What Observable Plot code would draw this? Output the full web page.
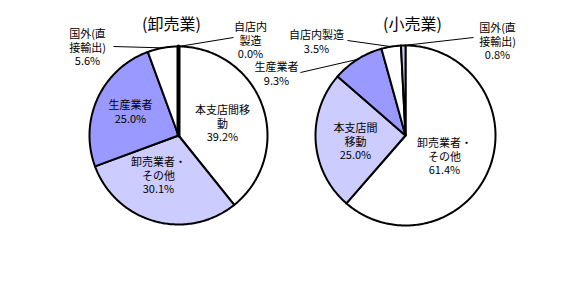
<!DOCTYPE html>
<html><head><meta charset="utf-8">
<script src="https://cdn.jsdelivr.net/npm/d3@7"></script>
<script src="https://cdn.jsdelivr.net/npm/@observablehq/plot@0.6"></script>
<style>body{margin:0;background:#fff;}</style>
</head><body><div id="chart"></div>
<script>
// ---- data ----
const charts = ["卸売業", "小売業"];
const wholesaleCategories = ["本支店間移動", "卸売業者・その他", "生産業者", "国外(直接輸出)", "自店内製造"];
const wholesaleValues = [39.2, 30.1, 25.0, 5.6, 0.0];
const wholesaleLabels = ["本支店間移\n動", "卸売業者・\nその他", "生産業者", "国外(直\n接輸出)", "自店内\n製造"];
const retailCategories = ["卸売業者・その他", "本支店間移動", "生産業者", "自店内製造", "国外(直接輸出)"];
const retailValues = [61.4, 25.0, 9.3, 3.5, 0.8];
const retailLabels = ["卸売業者・\nその他", "本支店間\n移動", "生産業者", "自店内製造", "国外(直\n接輸出)"];

// ---- layout / style ----
const W = 581, H = 284;
const sliceFills = ["#ffffff", "#ccccff", "#9999ff", "#ffffff", "#ccccff"];
const pieLayout = [
  {cx: 178, cy: 135, r: 89, titleX: 171, titleY: 24},
  {cx: 405, cy: 135, r: 90, titleX: 412, titleY: 24}
];
const labelLayout = [
  [{x: 222, y: 109}, {x: 158, y: 161}, {x: 130, y: 104}, {x: 87, y: 33, lx: 113, ly: 46}, {x: 250, y: 26, lx: 233, ly: 37}],
  [{x: 444, y: 142}, {x: 355, y: 127}, {x: 276, y: 66, lx: 300, ly: 72}, {x: 316, y: 34, lx: 347, ly: 40}, {x: 497, y: 27, lx: 473, ly: 37}]
];
const LH = 13.7;

const sets = [
  {chart: charts[0], cats: wholesaleCategories, values: wholesaleValues, labels: wholesaleLabels},
  {chart: charts[1], cats: retailCategories, values: retailValues, labels: retailLabels}
];

const polys = [], texts = [], leaders = [], titles = [];
sets.forEach((s, ci) => {
  const {cx, cy, r} = pieLayout[ci];
  titles.push({x: pieLayout[ci].titleX, y: pieLayout[ci].titleY, text: `(${s.chart})`});
  const total = d3.sum(s.values);
  let acc = 0;
  s.values.forEach((v, i) => {
    const a0 = acc / total * 2 * Math.PI;
    acc += v;
    const a1 = acc / total * 2 * Math.PI;
    const id = s.chart + "-" + s.cats[i];
    const fill = sliceFills[i];
    const zero = v === 0;
    polys.push({id, x: cx, y: cy, fill, zero});
    const n = Math.max(2, Math.ceil((a1 - a0) / (Math.PI / 180)));
    for (let k = 0; k <= n; k++) {
      const a = a0 + (a1 - a0) * k / n;
      polys.push({id, x: cx + r * Math.sin(a), y: cy - r * Math.cos(a), fill, zero});
    }
    polys.push({id, x: cx, y: cy, fill, zero});
    const L = labelLayout[ci][i];
    const nl = s.labels[i].split("\n").length + 1;
    texts.push({x: L.x, y: L.y + (nl - 1) * LH / 2, text: s.labels[i] + "\n" + v.toFixed(1) + "%"});
    if (L.lx !== undefined) {
      const am = (a0 + a1) / 2;
      leaders.push({x1: L.lx, y1: L.ly, x2: cx + r * Math.sin(am), y2: cy - r * Math.cos(am)});
    }
  });
});

const plot = Plot.plot({
  width: W, height: H,
  margin: 0,
  x: {domain: [0, W], range: [0, W], axis: null},
  y: {domain: [0, H], range: [0, H], axis: null},
  color: {type: "identity"},
  style: {fontFamily: "'Noto Sans CJK JP', sans-serif", background: "#fff", color: "#000"},
  marks: [
    Plot.line(polys, {x: "x", y: "y", z: "id", fill: "fill", stroke: "#000", strokeWidth: 2, strokeLinejoin: "round", curve: "linear"}),
    Plot.line(polys, {filter: d => d.zero, x: "x", y: "y", z: "id", stroke: "#000", strokeWidth: 4, curve: "linear"}),
    Plot.link(leaders, {x1: "x1", y1: "y1", x2: "x2", y2: "y2", stroke: "#000", strokeWidth: 1}),
    Plot.text(texts, {x: "x", y: "y", text: "text", fontSize: 11, lineHeight: LH / 11, fill: "#000"}),
    Plot.text(titles, {x: "x", y: "y", text: "text", fontSize: 16, fill: "#000", style: "letter-spacing:1px"})
  ]
});
document.getElementById("chart").appendChild(plot);
</script>
</body></html>
